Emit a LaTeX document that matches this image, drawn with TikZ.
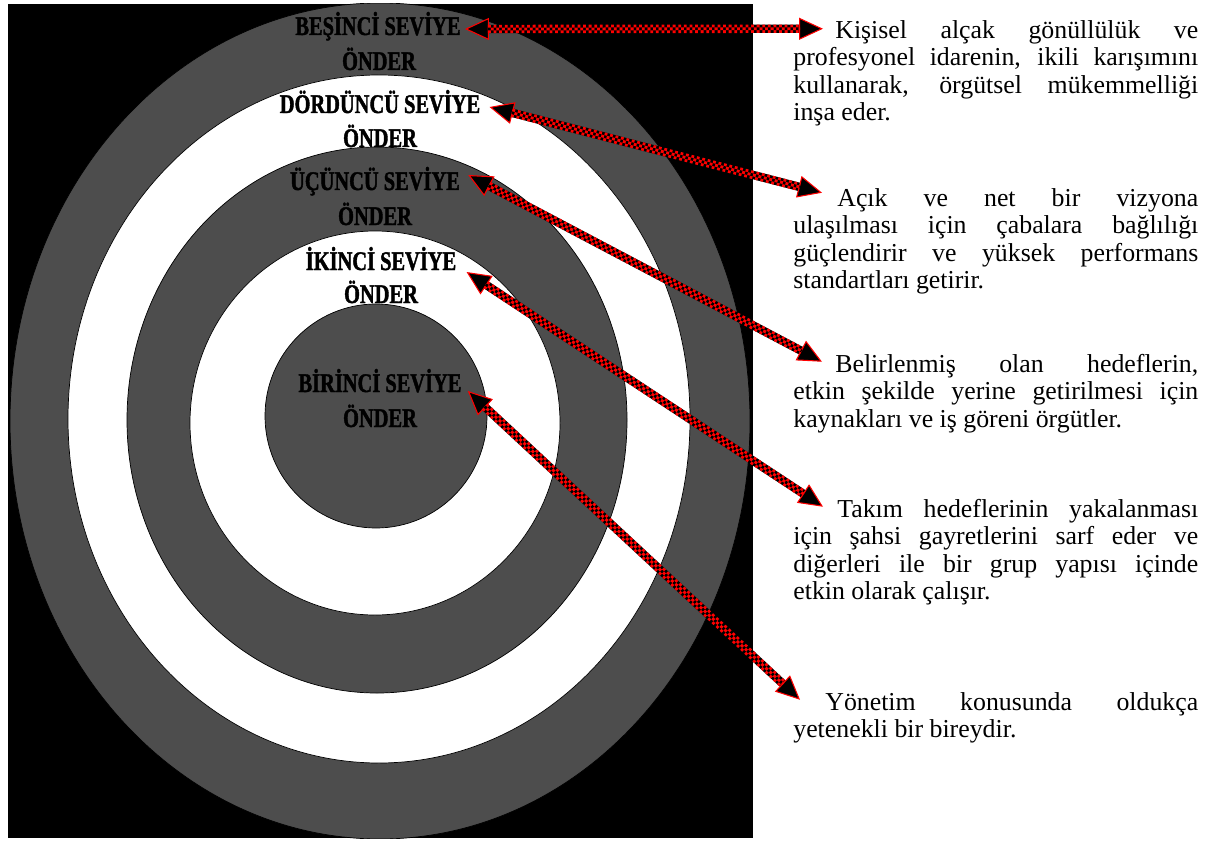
\documentclass[tikz,border=0pt]{standalone}
\usepackage{fontspec}
\setmainfont{Liberation Serif}
\newfontfamily\lvlfont[FakeStretch=0.76,FakeBold=1.5]{Liberation Serif}
\usetikzlibrary{arrows.meta}
\definecolor{ringgray}{RGB}{77,77,77}
\definecolor{dotred}{RGB}{255,0,0}
\tikzset{
  ring/.style={draw=black,line width=0.4pt},
  lvl/.style={inner sep=0pt,anchor=base,font=\lvlfont\bfseries\fontsize{15.3}{18}\selectfont},
  desc/.style={inner sep=0pt,anchor=north west,text width=8.1cm,align=justify,font=\fontsize{14.7}{15.6}\selectfont},
  dots/.style={-,shorten <=0.46cm,shorten >=0.46cm,dash pattern=on 0.056cm off 0.056cm},
  lvlarrow/.style={<->,draw=black,line width=0.168cm,
    postaction={dots,draw=dotred},
    postaction={dots,draw=black,line width=0.056cm},
    postaction={dots,draw=dotred,line width=0.056cm,dash phase=0.056cm}}
}
\begin{document}
\begin{tikzpicture}[x=0.02cm,y=-0.02cm,>={Triangle[length=0.48cm,width=0.44cm,fill=black,color=dotred,line width=0.6pt]}]
\useasboundingbox (0,0) rectangle (1209,841);
\fill[white] (0,0) rectangle (1209,841);

\begin{scope}
\clip (8,4) rectangle (753,838);
\fill[black] (8,4) rectangle (753,838);
\filldraw[ring,fill=ringgray] (380,421) ellipse [x radius=370,y radius=418];
\filldraw[ring,fill=white] (379,419) ellipse [x radius=311,y radius=344];
\filldraw[ring,fill=ringgray] (377,420) ellipse [x radius=250,y radius=273];
\filldraw[ring,fill=white] (375,423) ellipse [x radius=185,y radius=192];
\filldraw[ring,fill=ringgray] (376,416) ellipse [x radius=111,y radius=112];
\end{scope}

\node[lvl] (b5) at (378,35) {BEŞİNCİ SEVİYE};
\node[lvl] (b5o) at (379,70) {ÖNDER};
\node[lvl] (b4) at (380,113) {DÖRDÜNCÜ SEVİYE};
\node[lvl] (b4o) at (380,147) {ÖNDER};
\node[lvl] (b3) at (375,190) {ÜÇÜNCÜ SEVİYE};
\node[lvl] (b3o) at (375,225) {ÖNDER};
\node[lvl] (b2) at (381,270) {İKİNCİ SEVİYE};
\node[lvl] (b2o) at (381,303) {ÖNDER};
\node[lvl] (b1) at (380,392) {BİRİNCİ SEVİYE};
\node[lvl] (b1o) at (380,427) {ÖNDER};

\node[desc] (p1) at (793,18.75) {\strut\hspace*{0.84cm}Kişisel alçak gönüllülük ve \linebreak profesyonel idarenin, ikili karışımını \linebreak kullanarak, örgütsel mükemmelliği \linebreak inşa eder.};
\node[desc] (p2) at (793,186.75) {\strut\hspace*{0.88cm}Açık ve net bir vizyona \linebreak ulaşılması için çabalara bağlılığı \linebreak güçlendirir ve yüksek performans \linebreak standartları getirir.};
\node[desc] (p3) at (793,352.75) {\strut\hspace*{0.84cm}Belirlenmiş olan hedeflerin, \linebreak etkin şekilde yerine getirilmesi için \linebreak kaynakları ve iş göreni örgütler.};
\node[desc] (p4) at (793,497.75) {\strut\hspace*{0.88cm}Takım hedeflerinin yakalanması \linebreak için şahsi gayretlerini sarf eder ve \linebreak diğerleri ile bir grup yapısı içinde \linebreak etkin olarak çalışır.};
\node[desc] (p5) at (793,690.75) {\strut\hspace*{0.64cm}Yönetim konusunda oldukça \linebreak yetenekli bir bireydir.};

\draw[lvlarrow] ([shift={(4,-6)}]b5.base east) -- ([shift={(30,10)}]p1.north west);
\draw[lvlarrow] ([shift={(9,-6)}]b4.base east) -- ([shift={(29,6)}]p2.north west);
\draw[lvlarrow] ([shift={(8,-15)}]b3.base east) -- ([shift={(29,9)}]p3.north west);
\draw[lvlarrow] ([shift={(10,2)}]b2.base east) -- ([shift={(30,9)}]p4.north west);
\draw[lvlarrow] ([shift={(6,-1)}]b1.base east) -- ([shift={(7,9)}]p5.north west);
\end{tikzpicture}
\end{document}
